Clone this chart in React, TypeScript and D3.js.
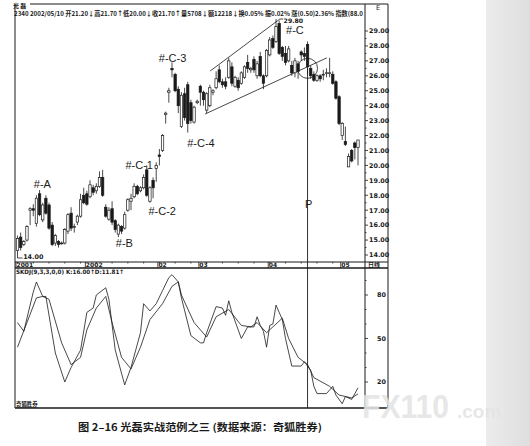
import * as d3 from "d3";

// open, high, low, close (daily, 光磊 2340)
const candles: [number, number, number, number][] = [
  [14.3, 15.3, 14.0, 15.1], [15.2, 15.5, 14.3, 14.5], [14.7, 15.0, 14.6, 14.9], [15.0, 16.0, 14.9, 15.9],
  [17.0, 17.2, 16.0, 17.1], [17.1, 17.4, 16.6, 17.0], [16.1, 18.0, 15.9, 17.8], [18.1, 18.35, 16.6, 16.7],
  [16.35, 17.5, 16.2, 17.35], [17.8, 18.0, 16.7, 16.8], [17.35, 17.5, 15.7, 15.8], [16.0, 16.2, 14.6, 14.7],
  [14.8, 15.4, 14.6, 15.3], [14.9, 15.0, 14.5, 14.7], [14.8, 14.9, 14.7, 14.8], [14.8, 15.8, 14.7, 15.7],
  [15.6, 16.8, 15.4, 16.7], [16.8, 17.2, 15.6, 15.8], [15.9, 16.1, 15.5, 15.9], [16.2, 16.7, 16.0, 16.6],
  [16.6, 18.1, 16.5, 17.7], [18.0, 18.5, 17.4, 17.5], [18.1, 18.3, 17.3, 17.4], [17.9, 19.0, 17.8, 18.7],
  [18.5, 18.7, 18.0, 18.2], [18.3, 18.8, 18.1, 18.6], [18.6, 19.6, 18.5, 19.2], [19.2, 19.7, 17.9, 18.0],
  [17.2, 17.4, 16.5, 16.6], [16.4, 17.2, 16.3, 17.0], [17.1, 17.6, 16.0, 16.2], [16.3, 16.4, 15.5, 15.7],
  [15.4, 16.1, 15.2, 16.0], [15.9, 16.0, 15.4, 15.6], [15.8, 16.9, 15.7, 16.7], [17.0, 17.8, 16.9, 17.7],
  [17.6, 18.1, 17.0, 17.8], [17.9, 18.8, 17.8, 18.6], [18.6, 18.7, 18.0, 18.1], [18.3, 18.6, 18.2, 18.5],
  [18.5, 19.4, 18.4, 19.2], [19.7, 20.0, 17.9, 18.0], [17.6, 18.6, 17.5, 18.5], [19.0, 19.2, 17.8, 18.5],
  [19.8, 20.2, 18.9, 20.0], [20.7, 21.1, 20.0, 20.6], [21.0, 22.1, 20.9, 22.0], [23.4, 23.6, 22.8, 23.5],
  [24.9, 25.2, 24.2, 25.0], [26.5, 26.9, 25.9, 26.4], [26.1, 26.2, 24.9, 25.0], [25.1, 25.3, 23.5, 24.0],
  [22.6, 24.9, 22.5, 24.7], [24.8, 25.2, 23.0, 23.2], [25.4, 25.6, 22.2, 22.8], [24.2, 24.4, 22.8, 23.0],
  [22.9, 24.0, 22.8, 23.9], [24.2, 24.4, 24.1, 24.3], [25.3, 25.4, 24.0, 24.9], [24.9, 25.0, 24.0, 24.4],
  [23.7, 24.9, 23.5, 24.8], [24.0, 25.4, 23.9, 25.2], [24.9, 25.1, 24.7, 25.0], [25.2, 26.3, 25.1, 25.8],
  [26.4, 26.7, 25.5, 25.6], [25.6, 25.8, 25.2, 25.4], [25.6, 25.9, 25.1, 25.3], [25.9, 27.2, 25.8, 27.0],
  [26.6, 26.9, 25.3, 25.5], [25.3, 26.0, 25.2, 25.9], [25.7, 25.9, 25.0, 25.2], [25.5, 26.3, 25.4, 26.2],
  [25.9, 26.7, 25.8, 26.6], [26.9, 27.4, 26.2, 26.5], [26.4, 26.6, 26.2, 26.5], [27.1, 27.3, 26.2, 26.4],
  [26.0, 27.0, 25.8, 26.8], [27.3, 27.6, 25.9, 26.0], [26.0, 26.1, 25.1, 25.5], [26.0, 27.8, 25.9, 27.7],
  [27.4, 28.6, 27.3, 28.4], [28.5, 28.7, 27.8, 27.9], [28.3, 29.8, 28.2, 29.3], [29.5, 29.7, 27.4, 27.5],
  [27.9, 28.0, 27.0, 27.3], [27.5, 28.0, 26.7, 26.9], [27.0, 28.0, 26.9, 27.8], [26.7, 27.0, 26.0, 26.2],
  [26.2, 27.2, 25.9, 27.0], [26.8, 27.0, 25.8, 26.3], [27.6, 27.7, 27.0, 27.4], [27.5, 27.9, 27.0, 27.3],
  [28.1, 28.3, 26.1, 26.6], [26.5, 26.7, 25.8, 26.0], [26.1, 26.3, 25.6, 25.7], [25.7, 26.1, 25.6, 26.0],
  [26.0, 26.1, 25.6, 25.8], [26.1, 26.4, 25.7, 26.1], [26.2, 26.5, 25.9, 26.2], [26.2, 27.2, 25.9, 26.2],
  [26.1, 26.3, 25.4, 25.5], [25.6, 25.7, 24.4, 24.5], [24.6, 24.7, 22.7, 22.8], [22.0, 22.9, 21.7, 22.8],
  [21.6, 22.6, 21.3, 21.4], [19.9, 20.8, 19.9, 20.6], [21.0, 21.1, 20.2, 20.3], [21.5, 21.6, 20.4, 21.2],
  [21.2, 21.7, 20.0, 21.7],
];

const monthLabels = ["2001", "2002", "02", "03", "04", "05"];
const monthIdx = [0, 22, 45, 58, 80, 103];

const priceTicks = [29, 28, 27, 26, 25, 24, 23, 22, 21, 20, 19, 18, 17, 16, 15, 14];
const kdTicks = [80, 50, 20];

// SKDJ K / D turning points (candle index, value)
const kIdx = [0, 2, 5, 6, 8, 9, 12, 15, 17, 20, 22, 24, 25, 28, 29, 31, 34, 36, 39, 40, 42, 44, 46, 48, 49, 51, 52, 55, 58, 59, 60, 63, 65, 66, 67, 68, 71, 73, 75, 76, 77, 78, 79, 80, 81, 82, 84, 85, 87, 90, 91, 93, 94, 95, 98, 100, 101, 103, 104, 106, 108];
const kVal = [61, 55, 82, 89, 79, 79, 40, 20, 30, 42, 68, 71, 80, 85, 77, 42, 18, 30, 54, 74, 69, 74, 83, 92, 94, 89, 78, 52, 47, 47, 54, 72, 71, 66, 76, 68, 50, 58, 58, 65, 59, 55, 44, 59, 60, 73, 63, 50, 31, 31, 34, 28, 17, 12, 12, 17, 11, 5, 10, 8, 16];
const dIdx = [0, 6, 8, 10, 14, 17, 20, 22, 25, 28, 30, 33, 36, 39, 42, 46, 49, 51, 52, 56, 60, 63, 67, 71, 74, 76, 79, 81, 84, 86, 89, 92, 94, 99, 102, 106, 108];
const dVal = [44, 78, 79, 77, 47, 32, 37, 56, 71, 79, 61, 37, 29, 44, 63, 74, 86, 89, 80, 61, 51, 65, 70, 59, 58, 61, 54, 58, 64, 50, 37, 32, 23, 17, 11, 9, 11.81];

const notes = [
  { text: "#-A", i: 7.9, p: 18.5 },
  { text: "#-B", i: 33.9, p: 14.55 },
  { text: "#-C-1", i: 38.6, p: 19.75 },
  { text: "#-C-2", i: 45.9, p: 16.7 },
  { text: "#-C-3", i: 49.2, p: 26.9 },
  { text: "#-C-4", i: 58.2, p: 21.2 },
  { text: "#-C", i: 88, p: 28.8 },
];

const upperLine: [number, number][] = [[61.1, 26.32], [83.2, 29.8]];
const lowerLine: [number, number][] = [[59.5, 23.44], [98.1, 27.2]];
const pIdx = 92;
const pPrice = 26.5;

const infoText =
  "2340 2002/05/10 开21.20↓高21.70↑低20.00↓收21.70↑量5708↓额12218↓换0.05% 振0.02% 涨(0.50)2.36% 指数(88.0";
const kdText = "SKDJ(9,3,3,0,0) K:16.00↑D:11.81↑";
const caption = "图 2–16   光磊实战范例之三 (数据来源：奇狐胜券)";

const numFont = "'DejaVu Sans', sans-serif";
const cjkFont = "'Noto Sans CJK SC', sans-serif";
const ink = "#1a1a1a";

export default function App() {
  const W = 530;
  const H = 446;
  const left = 15;
  const plotR = 365;
  const outerR = 388;
  const top = 4;
  const dateTop = 262;
  const dateBot = 268;
  const bottom = 408;

  const x = d3.scaleLinear().domain([0, candles.length - 1]).range([17.5, 358]);
  const py = d3.scaleLinear().domain([14, 29]).range([255, 31]);
  const ky = d3.scaleLinear().domain([0, 100]).range([411, 266]);
  const bw = 2.4;

  const kLine = d3
    .line<number>()
    .x((_, i) => x(kIdx[i]))
    .y((v) => ky(v));
  const dLine = d3
    .line<number>()
    .x((_, i) => x(dIdx[i]))
    .y((v) => ky(v));

  const minorPrice = d3.range(14, 29.01, 0.5);
  const weekTicks = d3.range(0, candles.length, 5);
  const kdMinor = d3.range(10, 100, 10);

  return (
    <svg
      width={W}
      height={H}
      style={{ position: "absolute", left: 0, top: 0, background: "#fff" }}
    >
      <defs>
        <linearGradient id="edge" x1="0" x2="1" y1="0" y2="0">
          <stop offset="0" stopColor="#ececec" />
          <stop offset="1" stopColor="#dedede" />
        </linearGradient>
      </defs>
      <rect x={0} y={0} width={W} height={H} fill="#fff" />
      <rect x={486} y={0} width={W - 486} height={H} fill="url(#edge)" />

      {/* frame */}
      <g stroke={ink} strokeWidth={1} fill="none">
        <line x1={left} x2={left} y1={top} y2={bottom} />
        <line x1={30} x2={outerR} y1={top} y2={top} />
        <line x1={plotR} x2={plotR} y1={top} y2={bottom} />
        <line x1={outerR} x2={outerR} y1={top} y2={bottom} />
        <line x1={left} x2={outerR} y1={dateTop} y2={dateTop} />
        <line x1={left} x2={outerR} y1={dateBot} y2={dateBot} strokeWidth={1.4} />
        <line x1={left} x2={outerR} y1={bottom} y2={bottom} strokeWidth={1.4} />
      </g>

      {/* header */}
      <text x={13} y={7.5} fontFamily={cjkFont} fontSize={6} fontWeight={700} fill={ink}>
        光 磊
      </text>
      <text
        x={14}
        y={16}
        fontFamily={cjkFont}
        fontSize={6.4}
        fontWeight={700}
        fill={ink}
        textLength={349}
        lengthAdjust="spacingAndGlyphs"
      >
        {infoText}
      </text>
      <text x={376} y={10} fontFamily={numFont} fontSize={6.5} fill={ink}>
        E
      </text>

      {/* price axis */}
      <g stroke={ink} strokeWidth={0.8}>
        {minorPrice.map((p) => (
          <line key={p} x1={plotR} x2={plotR + (p % 1 === 0 ? 3 : 1.5)} y1={py(p)} y2={py(p)} />
        ))}
      </g>
      <g fontFamily={numFont} fontSize={6.4} fontWeight={700} fill={ink}>
        {priceTicks.map((p) => (
          <text key={p} x={369} y={py(p) + 2.3}>
            {p.toFixed(2)}
          </text>
        ))}
      </g>

      {/* channel lines */}
      <g stroke={ink} strokeWidth={0.8}>
        <line x1={x(upperLine[0][0])} y1={py(upperLine[0][1])} x2={x(upperLine[1][0])} y2={py(upperLine[1][1])} />
        <line x1={x(lowerLine[0][0])} y1={py(lowerLine[0][1])} x2={x(lowerLine[1][0])} y2={py(lowerLine[1][1])} />
      </g>

      {/* candles */}
      <g>
        {candles.map(([o, h, l, c], i) => {
          const up = c >= o;
          const yTop = py(Math.max(o, c));
          const yBot = py(Math.min(o, c));
          return (
            <g key={i}>
              <line x1={x(i)} x2={x(i)} y1={py(h)} y2={py(l)} stroke={ink} strokeWidth={0.8} />
              <rect
                x={x(i) - bw / 2}
                y={yTop}
                width={bw}
                height={Math.max(yBot - yTop, 0.8)}
                fill={up ? "#fff" : ink}
                stroke={ink}
                strokeWidth={0.7}
              />
            </g>
          );
        })}
      </g>

      {/* low / high markers */}
      <path
        d={`M${x(0)},${py(14)}V${py(13.8)}H${x(1.6)}`}
        stroke={ink}
        strokeWidth={0.8}
        fill="none"
      />
      <text x={x(1.8)} y={py(13.7)} fontFamily={numFont} fontSize={6.4} fontWeight={700} fill={ink}>
        14.00
      </text>
      <line x1={x(83.2)} x2={x(84.3)} y1={py(29.8)} y2={py(29.8)} stroke={ink} strokeWidth={0.8} />
      <text x={x(84.4)} y={py(29.55)} fontFamily={numFont} fontSize={6.2} fontWeight={700} fill={ink}>
        29.80
      </text>

      {/* annotations */}
      <g fontFamily="'Liberation Sans', Arial, sans-serif" fontSize={11} fill={ink} textAnchor="middle">
        {notes.map((n) => (
          <text key={n.text} x={x(n.i)} y={py(n.p)}>
            {n.text}
          </text>
        ))}
      </g>

      {/* P marker */}
      <circle cx={x(pIdx)} cy={py(pPrice)} r={10} fill="none" stroke={ink} strokeWidth={0.8} />
      <line x1={x(pIdx)} x2={x(pIdx)} y1={py(pPrice)} y2={bottom} stroke={ink} strokeWidth={0.9} />
      <text
        x={x(pIdx) + 1}
        y={208}
        fontFamily="'Liberation Sans', Arial, sans-serif"
        fontSize={11}
        textAnchor="middle"
        fill={ink}
      >
        P
      </text>

      {/* date strip */}
      <g stroke={ink} strokeWidth={0.8}>
        {weekTicks.map((i) => (
          <line key={i} x1={x(i)} x2={x(i)} y1={dateTop} y2={dateTop + 1.5} />
        ))}
        {monthIdx.map((i) => (
          <line key={"m" + i} x1={x(i) - 1.5} x2={x(i) - 1.5} y1={dateTop} y2={dateBot} />
        ))}
      </g>
      <g fontFamily={numFont} fontSize={6} fontWeight={700} fill={ink}>
        {monthLabels.map((m, j) => (
          <text key={m} x={x(monthIdx[j]) - 1} y={dateBot - 0.6}>
            {m}
          </text>
        ))}
      </g>
      <text x={368} y={dateBot - 0.6} fontFamily={cjkFont} fontSize={6} fontWeight={700} fill={ink}>
        日线
      </text>

      {/* KD panel */}
      <text
        x={16}
        y={274}
        fontFamily={numFont}
        fontSize={6}
        fontWeight={700}
        fill={ink}
        textLength={108}
        lengthAdjust="spacingAndGlyphs"
      >
        {kdText}
      </text>
      <g stroke={ink} strokeWidth={0.8}>
        {kdMinor.map((v) => (
          <line key={v} x1={plotR} x2={plotR + (kdTicks.includes(v) ? 3 : 1.5)} y1={ky(v)} y2={ky(v)} />
        ))}
      </g>
      <g fontFamily={numFont} fontSize={6.4} fontWeight={700} fill={ink} textAnchor="end">
        {kdTicks.map((v) => (
          <text key={v} x={386} y={ky(v) + 2.3}>
            {v}
          </text>
        ))}
      </g>
      <path d={dLine(dVal) ?? ""} fill="none" stroke={ink} strokeWidth={0.8} />
      <path d={kLine(kVal) ?? ""} fill="none" stroke={ink} strokeWidth={0.8} />
      <text
        x={16}
        y={406}
        fontFamily={cjkFont}
        fontSize={5.4}
        fontWeight={700}
        fill={ink}
        textDecoration="underline"
      >
        奇狐胜券
      </text>

      {/* watermark */}
      <g fill="#e4e4e4" fillOpacity={0.9} fontFamily="'Liberation Sans', Arial, sans-serif" fontWeight={700}>
        <text x={362} y={418} fontSize={34} textLength={87} lengthAdjust="spacingAndGlyphs">
          FX110
        </text>
        <text x={457} y={418} fontSize={19}>
          .com
        </text>
      </g>

      {/* caption */}
      <text
        x={78}
        y={431}
        fontFamily={cjkFont}
        fontSize={10}
        fontWeight={700}
        fill={ink}
        textLength={244}
        lengthAdjust="spacingAndGlyphs"
      >
        {caption}
      </text>
    </svg>
  );
}
